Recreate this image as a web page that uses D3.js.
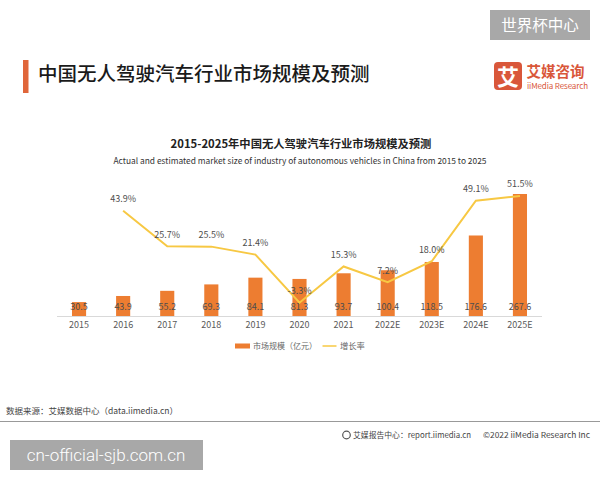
<!DOCTYPE html>
<html>
<head>
<meta charset="utf-8">
<script src="https://cdn.jsdelivr.net/npm/d3@7"></script>
<style>
  body { margin: 0; background: #ffffff; }
  text { font-family: "Noto Sans CJK SC", "Noto Sans", sans-serif; }
</style>
</head>
<body>
<div id="vis"></div>
<script>

const FRAME_WIDTH = 600;
const FRAME_HEIGHT = 480;

// data
const years = ["2015", "2016", "2017", "2018", "2019", "2020", "2021", "2022E", "2023E", "2024E", "2025E"];
const marketSize = [30.5, 43.9, 55.2, 69.3, 84.1, 81.3, 93.7, 100.4, 118.5, 176.6, 267.6];
const growthYears = ["2016", "2017", "2018", "2019", "2020", "2021", "2022E", "2023E", "2024E", "2025E"];
const growthRate = [43.9, 25.7, 25.5, 21.4, -3.3, 15.3, 7.2, 18.0, 49.1, 51.5];
const legendLabels = ["市场规模（亿元）", "增长率"];

const BAR_COLOR = "#ed7d31";
const LINE_COLOR = "#f7c843";
const BASE_Y = 316;

const FRAME = d3.select("#vis")
            .append("svg")
            .attr("width", FRAME_WIDTH)
            .attr("height", FRAME_HEIGHT);

// watermark top right
FRAME.append("rect")
    .attr("x", 490).attr("y", 10)
    .attr("width", 100).attr("height", 30)
    .attr("fill", "#a8a8a8");
FRAME.append("text")
    .attr("x", 540).attr("y", 30.5)
    .attr("text-anchor", "middle")
    .attr("font-size", 15.5)
    .attr("fill", "#ffffff")
    .text("世界杯中心");

// page heading
FRAME.append("rect")
    .attr("x", 23).attr("y", 60)
    .attr("width", 5.5).attr("height", 33)
    .attr("fill", "#e0663a");
FRAME.append("text")
    .attr("x", 38).attr("y", 81)
    .attr("font-size", 19.5)
    .attr("font-weight", 500)
    .attr("fill", "#1a1a1a")
    .text("中国无人驾驶汽车行业市场规模及预测");

// logo
FRAME.append("rect")
    .attr("x", 494).attr("y", 62)
    .attr("width", 28).attr("height", 28)
    .attr("rx", 4)
    .attr("fill", "#d9573a");
FRAME.append("text")
    .attr("x", 508).attr("y", 84.5)
    .attr("text-anchor", "middle")
    .attr("font-size", 22)
    .attr("font-weight", 700)
    .attr("fill", "#ffffff")
    .text("艾");
FRAME.append("text")
    .attr("x", 526.5).attr("y", 76.5)
    .attr("font-size", 14.5)
    .attr("font-weight", 700)
    .attr("fill", "#d9573a")
    .text("艾媒咨询");
FRAME.append("text")
    .attr("x", 527).attr("y", 89)
    .attr("font-size", 8)
    .attr("fill", "#d9573a")
    .attr("textLength", 61)
    .text("iiMedia Research");

// chart titles
FRAME.append("text")
    .attr("x", 301).attr("y", 148)
    .attr("text-anchor", "middle")
    .attr("font-size", 11.3)
    .attr("font-weight", 700)
    .attr("fill", "#222")
    .text("2015-2025年中国无人驾驶汽车行业市场规模及预测");
FRAME.append("text")
    .attr("x", 300).attr("y", 164)
    .attr("text-anchor", "middle")
    .attr("font-size", 8.4)
    .attr("fill", "#333")
    .text("Actual and estimated market size of industry of autonomous vehicles in China from 2015 to 2025");

// scales
const X_SCALE = d3.scaleBand()
    .domain(years)
    .range([57, 542])
    .paddingInner(0.68)
    .paddingOuter(0.34);

const Y_BAR = d3.scaleLinear()
    .domain([0, 267.6])
    .range([BASE_Y, 194]);

const Y_LINE = d3.scaleLinear()
    .domain([0, 50])
    .range([296.3, 198.9]);

const xc = (y) => X_SCALE(y) + X_SCALE.bandwidth() / 2;

// bars
FRAME.selectAll(".bar")
    .data(years)
    .enter()
    .append("rect")
    .attr("class", "bar")
    .attr("x", (d) => X_SCALE(d))
    .attr("y", (d, i) => Y_BAR(marketSize[i]))
    .attr("width", X_SCALE.bandwidth())
    .attr("height", (d, i) => BASE_Y - Y_BAR(marketSize[i]))
    .attr("fill", BAR_COLOR);

// baseline
FRAME.append("line")
    .attr("x1", 57).attr("x2", 542)
    .attr("y1", BASE_Y + 0.5).attr("y2", BASE_Y + 0.5)
    .attr("stroke", "#d9d9d9");

// x axis labels
const xAxis = d3.axisBottom(X_SCALE).tickSize(0).tickPadding(6);
const gx = FRAME.append("g")
    .attr("transform", `translate(0,${BASE_Y})`)
    .call(xAxis);
gx.select(".domain").remove();
gx.selectAll("text")
    .attr("font-size", 9)
    .attr("fill", "#595959")
    .style("font-family", "\"Noto Sans CJK SC\", sans-serif");

// bar value labels
FRAME.selectAll(".barlabel")
    .data(years)
    .enter()
    .append("text")
    .attr("class", "barlabel")
    .attr("x", (d) => xc(d))
    .attr("y", 310)
    .attr("text-anchor", "middle")
    .attr("font-size", 9)
    .attr("fill", "#4d4d4d")
    .text((d, i) => marketSize[i].toFixed(1));

// growth line
const line = d3.line()
    .x((d) => xc(d))
    .y((d, i) => Y_LINE(growthRate[i]));

FRAME.append("path")
    .datum(growthYears)
    .attr("d", line)
    .attr("fill", "none")
    .attr("stroke", LINE_COLOR)
    .attr("stroke-width", 2);

FRAME.selectAll(".ratelabel")
    .data(growthYears)
    .enter()
    .append("text")
    .attr("class", "ratelabel")
    .attr("x", (d) => xc(d))
    .attr("y", (d, i) => Y_LINE(growthRate[i]) - 8.5)
    .attr("text-anchor", "middle")
    .attr("font-size", 9)
    .attr("fill", "#4d4d4d")
    .text((d, i) => growthRate[i].toFixed(1) + "%");

// legend
FRAME.append("rect")
    .attr("x", 235).attr("y", 343.5)
    .attr("width", 15).attr("height", 5)
    .attr("fill", BAR_COLOR);
FRAME.append("text")
    .attr("x", 253).attr("y", 349)
    .attr("font-size", 8)
    .attr("fill", "#666")
    .text(legendLabels[0]);
FRAME.append("line")
    .attr("x1", 322.5).attr("x2", 336.5)
    .attr("y1", 346).attr("y2", 346)
    .attr("stroke", LINE_COLOR)
    .attr("stroke-width", 1.5);
FRAME.append("text")
    .attr("x", 340).attr("y", 349)
    .attr("font-size", 8.3)
    .attr("fill", "#666")
    .text(legendLabels[1]);

// footer
FRAME.append("text")
    .attr("x", 6).attr("y", 414)
    .attr("font-size", 8.5)
    .attr("fill", "#444")
    .text("数据来源：艾媒数据中心（data.iimedia.cn）");
FRAME.append("line")
    .attr("x1", 0).attr("x2", 600)
    .attr("y1", 421.5).attr("y2", 421.5)
    .attr("stroke", "#999")
    .attr("stroke-width", 1.2);
FRAME.append("circle")
    .attr("cx", 346.5).attr("cy", 435)
    .attr("r", 3.8)
    .attr("fill", "none")
    .attr("stroke", "#555")
    .attr("stroke-width", 1.2);
FRAME.append("text")
    .attr("x", 353).attr("y", 438)
    .attr("font-size", 8)
    .attr("fill", "#444")
    .attr("textLength", 118)
    .attr("lengthAdjust", "spacingAndGlyphs")
    .text("艾媒报告中心：report.iimedia.cn");
FRAME.append("text")
    .attr("x", 483).attr("y", 438)
    .attr("font-size", 8)
    .attr("fill", "#444")
    .attr("textLength", 107)
    .attr("lengthAdjust", "spacingAndGlyphs")
    .text("©2022  iiMedia Research Inc");

// watermark bottom left
FRAME.append("rect")
    .attr("x", 10).attr("y", 440)
    .attr("width", 193).attr("height", 30)
    .attr("fill", "#a8a8a8");
FRAME.append("text")
    .attr("x", 106).attr("y", 461)
    .attr("text-anchor", "middle")
    .attr("font-size", 17)
    .attr("fill", "#ffffff")
    .style("font-family", "Roboto, sans-serif")
    .style("font-weight", 300)
    .text("cn-official-sjb.com.cn");

</script>
</body>
</html>
